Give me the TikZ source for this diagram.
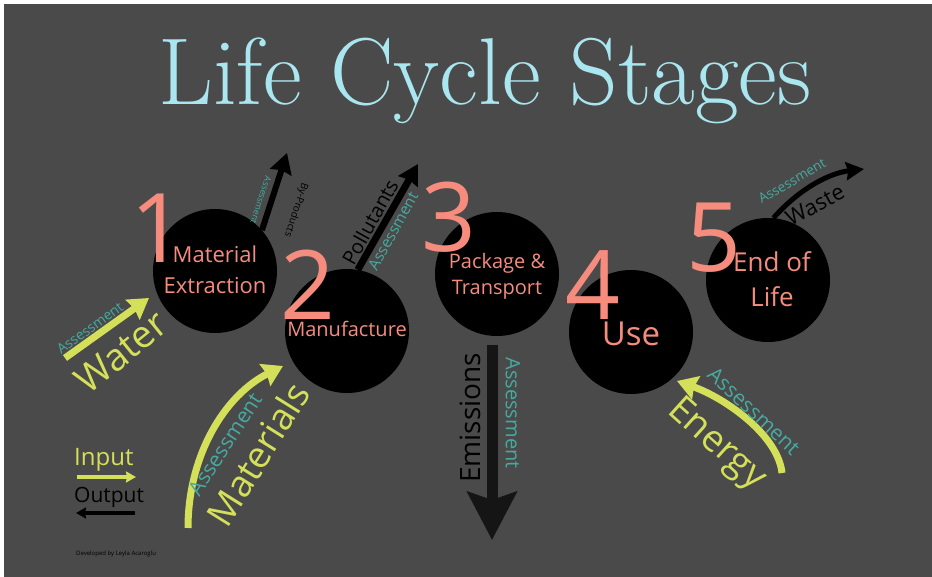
\documentclass[tikz,border=0pt]{standalone}
\usepackage{fontspec}
\setmainfont{Open Sans}
\newfontfamily\titlefont{Latin Modern Roman}
\usetikzlibrary{arrows.meta}
\definecolor{bgc}{HTML}{4A4A4A}
\definecolor{salmon}{HTML}{F58C7D}
\definecolor{cyanT}{HTML}{AAE6F0}
\definecolor{lime}{HTML}{D4E05A}
\definecolor{teal2}{HTML}{46AAA0}
\definecolor{darkarrow}{HTML}{151515}
\newcommand{\fs}[1]{\fontsize{#1}{#1}\selectfont}
\tikzset{
  stage/.style={circle, fill=black, minimum size=124pt, inner sep=0pt},
  num/.style={text=salmon, anchor=base, inner sep=0pt, font=\fs{96}},
  lbl/.style={text=salmon, anchor=base, inner sep=0pt, align=center},
  inarrow/.style={draw=lime, line width=7pt, -{Stealth[inset=2pt,width=24pt,length=20pt]}},
  outarrow/.style={draw=black, line width=6pt, -{Stealth[inset=2pt,width=22pt,length=20pt]}},
  asmt/.style={text=teal2, inner sep=0pt},
  inlbl/.style={text=lime, inner sep=0pt},
  outlbl/.style={text=black, inner sep=0pt},
}
\begin{document}
\begin{tikzpicture}[x=1pt,y=-1pt]
\useasboundingbox (0,0) rectangle (932,577);
\fill[bgc] (4,4) rectangle (932,577);
% title
\node[anchor=base, text=cyanT, inner sep=0pt, font=\titlefont\fs{95}] (title) at (485,105) {Life Cycle Stages};
% stages
\node[stage] (c1) at (215,271) {};
\node[stage] (c2) at (347,331) {};
\node[stage] (c3) at (497,274) {};
\node[stage] (c4) at (631,332) {};
\node[stage] (c5) at (768,280) {};
% numbers
\node[num] (n1) at (158,263) {1};
\node[num] (n2) at (308,320) {2};
\node[num] (n3) at (449,252) {3};
\node[num] (n4) at (593,320) {4};
\node[num] (n5) at (714,272) {5};
% labels (base = baseline of the last line)
\node[lbl, font=\fs{22}] (l1) at (215,294) {Material\\[9pt]Extraction};
\node[lbl, font=\fs{20}] (l2) at (347,337) {Manufacture};
\node[lbl, font=\fs{20}] (l3) at (497,295) {Package \&\\[6pt]Transport};
\node[lbl, font=\fs{33}] (l4) at (631,346) {Use};
\node[lbl, font=\fs{26}] (l5) at (772,307) {End of\\[9pt]Life};
% By-products
\coordinate (bpEnd) at (287,153);
\draw[outarrow] (c1.41) -- (bpEnd);
\node[outlbl, font=\fs{10}, rotate=-108] (bpT) at (296,210) {By-Products};
\node[asmt, font=\fs{8.8}, rotate=-108] (bpA) at (261,200) {Assessment};
% Pollutants
\coordinate (poEnd) at (418,164);
\draw[outarrow, line width=7pt] (c2.80) -- (poEnd);
\node[outlbl, font=\fs{20}, rotate=61] (poT) at (370,222) {Pollutants};
\node[asmt, font=\fs{15.5}, rotate=61] (poA) at (393,231) {Assessment};
% Water
\coordinate (waStart) at (65,358);
\coordinate (waEnd) at (149,298);
\draw[inarrow] (waStart) -- (waEnd);
\node[asmt, font=\fs{14}, rotate=36] (waA) at (90,328) {Assessment};
\node[inlbl, font=\fs{38}, rotate=39] (waT) at (121,352) {Water};
% Materials
\coordinate (maStart) at (188,528);
\coordinate (maEnd) at (283,366);
\draw[inarrow] (maStart) .. controls (188,455) and (225,395) .. (maEnd);
\node[asmt, font=\fs{21}, rotate=57] (maA) at (225,444) {Assessment};
\node[inlbl, font=\fs{37}, rotate=58] (maT) at (258,454) {Materials};
% Emissions
\coordinate (emStart) at (492,345);
\coordinate (emEnd) at (492,540);
\draw[draw=darkarrow, line width=11pt, -{Stealth[inset=8pt,width=49pt,length=48pt]}] (emStart) -- (emEnd);
\node[outlbl, font=\fs{28}, rotate=90] (emT) at (470,418) {Emissions};
\node[asmt, font=\fs{20}, rotate=-90] (emA) at (513,413) {Assessment};
% Energy
\coordinate (enStart) at (782,473);
\coordinate (enEnd) at (677,381);
\draw[inarrow] (enStart) .. controls (778,435) and (725,398) .. (enEnd);
\node[inlbl, font=\fs{37}, rotate=-42] (enT) at (716,445) {Energy};
\node[asmt, font=\fs{21}, rotate=-43] (enA) at (754,411) {Assessment};
% Waste
\coordinate (wsEnd) at (864,169);
\draw[outarrow, line width=5pt, -{Stealth[inset=2pt,width=18pt,length=18pt]}] (c5.85) .. controls (800,188) and (830,173) .. (wsEnd);
\node[outlbl, font=\fs{22}, rotate=28] (wsT) at (815,205) {Waste};
\node[asmt, font=\fs{13.5}, rotate=30] (wsA) at (792,181) {Assessment};
% legend
\node[inlbl, font=\fs{24}, anchor=base west] (inL) at (74,465) {Input};
\coordinate (inA1) at (77,477);
\coordinate (inA2) at (136,477);
\draw[draw=lime, line width=3.5pt, -{Stealth[inset=1pt,width=11pt,length=10pt]}] (inA1) -- (inA2);
\node[outlbl, font=\fs{21}, anchor=base west] (outL) at (74,502) {Output};
\coordinate (outA1) at (135,513);
\coordinate (outA2) at (76,513);
\draw[draw=black, line width=3.5pt, -{Stealth[inset=1pt,width=11pt,length=10pt]}] (outA1) -- (outA2);
\node[outlbl, font=\fs{6}, anchor=base west] (dev) at (76,555) {Developed by Leyla Acaroglu};
\end{tikzpicture}
\end{document}
